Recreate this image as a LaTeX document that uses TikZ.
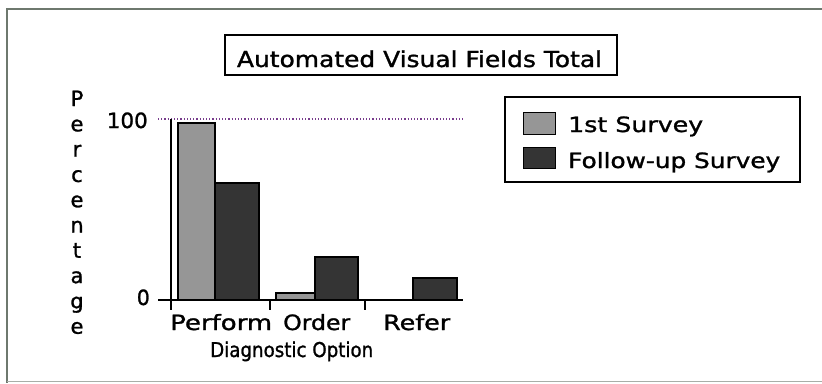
\documentclass[tikz,border=0pt]{standalone}
\usepackage{fontspec}
\setmainfont{DejaVu Sans}
\newfontfamily\medfont[FakeBold=1.2]{DejaVu Sans}
\usepackage{graphicx}
\newcommand{\fitw}[2]{\resizebox{#1}{\height}{#2}}
\definecolor{firstfill}{RGB}{150,150,150}
\definecolor{followfill}{RGB}{52,52,52}
\definecolor{framecol}{RGB}{110,120,110}
\definecolor{dotcol}{RGB}{120,60,140}
\begin{document}
\begin{tikzpicture}[x=1pt,y=-1pt,
  lbl/.style={inner sep=0pt,font=\medfont\fontsize{21}{25}\selectfont},
  blbl/.style={inner sep=0pt,font=\medfont\fontsize{21}{25}\selectfont},
  boxed/.style={draw=black,line width=1.8pt,inner sep=0pt},
  barA/.style={draw=black,line width=1.2pt,fill=firstfill},
  barB/.style={draw=black,line width=1.2pt,fill=followfill}]
\useasboundingbox (0,0) rectangle (822,383);
% outer frame
\draw[framecol,line width=1.2pt] (822,9) -- (7,9) -- (7,383);
\draw[framecol!60,line width=0.8pt] (7,381) -- (822,381);
% title
\node[boxed,minimum width=392pt,minimum height=40pt] (titlebox) at (421,55) {};
\node[lbl,anchor=base,font=\medfont\fontsize{22}{26}\selectfont] (title) at (419.5,67) {\fitw{365pt}{Automated Visual Fields Total}};
% legend
\node[boxed,minimum width=295pt,minimum height=85pt] (legend) at (652.5,139.5) {};
\draw[barA,line width=0.8pt] (523,112) rectangle (555,134);
\draw[barB,line width=0.8pt] (523,147) rectangle (555,168);
\node[blbl,anchor=base west] (leg1) at (568,132) {\fitw{135pt}{1st Survey}};
\node[blbl,anchor=base west] (leg2) at (568,168) {\fitw{212pt}{Follow-up Survey}};
% y label
\foreach \c [count=\i from 0] in {P,e,r,c,e,n,t,a,g,e}
  \node[blbl,anchor=base] (p\i) at (77,{106+25.3*\i}) {\c};
% gridline 100 and zero line
\coordinate (g1) at (158,119);
\coordinate (g2) at (463,119);
\draw[dotcol,line width=1.2pt,dotted] (g1) -- (g2);
\coordinate (z1) at (158,300);
\coordinate (z2) at (463,300);
% bars
\draw[barA] (178,300) rectangle (215,123);
\draw[barB] (215,300) rectangle (259,183);
\draw[barA] (276,300) rectangle (315,293);
\draw[barB] (315,300) rectangle (358,257);
\draw[barA] (370,300) rectangle (413,299.5);
\draw[barB] (413,300) rectangle (457,278);
% axes
\draw[black,line width=1.8pt] (z1) -- (z2);
\coordinate (a1) at (171,119);
\coordinate (a2) at (171,310);
\draw[black,line width=1.8pt] (a1) -- (a2);
\coordinate (t1) at (270,300);
\coordinate (t1b) at (270,310);
\coordinate (t2) at (365,300);
\coordinate (t2b) at (365,310);
\draw[black,line width=1.8pt] (t1) -- (t1b);
\draw[black,line width=1.8pt] (t2) -- (t2b);
% tick labels
\node[blbl,anchor=base east] (y100) at (148,128) {\fitw{41pt}{100}};
\node[blbl,anchor=base east] (y0) at (150,305) {\fitw{13pt}{0}};
\node[blbl,anchor=base west] (xperf) at (170,330) {\fitw{102pt}{Perform}};
\node[blbl,anchor=base west] (xord) at (283,330) {\fitw{67pt}{Order}};
\node[blbl,anchor=base west] (xref) at (383,330) {\fitw{67pt}{Refer}};
\node[lbl,anchor=base west] (xtitle) at (210,357) {\resizebox{163pt}{15.5pt}{Diagnostic Option}};
\end{tikzpicture}
\end{document}
